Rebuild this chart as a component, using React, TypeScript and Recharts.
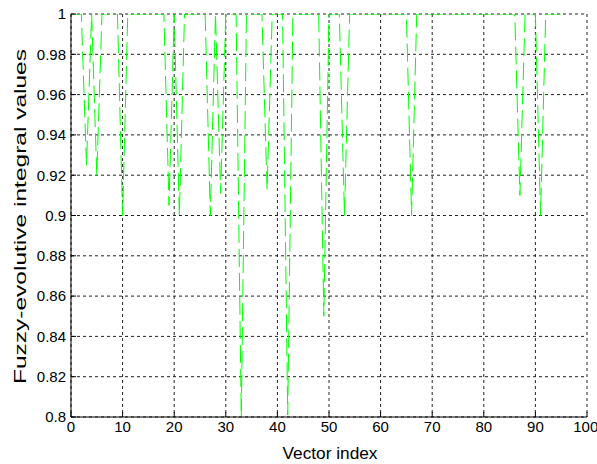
import React from 'react';
import { LineChart, Line, XAxis, YAxis, CartesianGrid } from 'recharts';

// vector index 0..95, fuzzy-evolutive integral values
const indexes = [
  0, 1, 2, 3, 4, 5, 6, 7, 8, 9,
  10, 11, 12, 13, 14, 15, 16, 17, 18, 19,
  20, 21, 22, 23, 24, 25, 26, 27, 28, 29,
  30, 31, 32, 33, 34, 35, 36, 37, 38, 39,
  40, 41, 42, 43, 44, 45, 46, 47, 48, 49,
  50, 51, 52, 53, 54, 55, 56, 57, 58, 59,
  60, 61, 62, 63, 64, 65, 66, 67, 68, 69,
  70, 71, 72, 73, 74, 75, 76, 77, 78, 79,
  80, 81, 82, 83, 84, 85, 86, 87, 88, 89,
  90, 91, 92, 93, 94, 95,
];

const values = [
  1, 1, 1, 0.925, 1, 0.92, 1, 1, 1, 1,
  0.9, 1, 1, 1, 1, 1, 1, 1, 1, 0.905,
  1, 0.9, 1, 1, 1, 1, 1, 0.9, 1, 0.911,
  1, 1, 1, 0.8, 1, 1, 1, 1, 0.913, 1,
  1, 1, 0.801, 1, 1, 1, 1, 1, 1, 0.85,
  1, 1, 1, 0.9, 1, 1, 1, 1, 1, 1,
  1, 1, 1, 1, 1, 1, 0.9, 1, 1, 1,
  1, 1, 1, 1, 1, 1, 1, 1, 1, 1,
  1, 1, 1, 1, 1, 1, 1, 0.91, 1, 1,
  1, 0.9, 1, 1, 1, 1,
];

const xTicks = [0, 10, 20, 30, 40, 50, 60, 70, 80, 90, 100];
const yTicks = [0.8, 0.82, 0.84, 0.86, 0.88, 0.9, 0.92, 0.94, 0.96, 0.98, 1];

const xTitle = 'Vector index';
const yTitle = 'Fuzzy-evolutive integral values';

const data = indexes.map((idx, i) => ({ idx, v: values[i] }));

const family = 'Liberation Sans, Arial, sans-serif';
const tickFont = { fontFamily: family, fontSize: 15, fill: '#000' };
const blank = () => '';

function XTitle(props: any) {
  const vb = props.viewBox || { x: 71, width: 516 };
  const cx = vb.x + vb.width / 2 + 1;
  return (
    <text
      x={cx}
      y={459}
      textAnchor="middle"
      fontFamily={family}
      fontSize={17}
      fill="#000"
      textLength={95}
      lengthAdjust="spacingAndGlyphs"
    >
      {xTitle}
    </text>
  );
}

function YTitle(props: any) {
  const vb = props.viewBox || { y: 14, height: 403 };
  const cx = 20;
  const cy = vb.y + vb.height / 2 + 1;
  return (
    <text
      x={cx}
      y={cy}
      transform={`rotate(-90 ${cx} ${cy})`}
      textAnchor="middle"
      dominantBaseline="central"
      fontFamily={family}
      fontSize={17}
      fill="#000"
      textLength={335}
      lengthAdjust="spacingAndGlyphs"
    >
      {yTitle}
    </text>
  );
}

export default function App() {
  return (
    <div style={{ position: 'absolute', left: 0, top: 0, background: '#fff' }}>
      <LineChart
        width={597}
        height={464}
        data={data}
        margin={{ top: 14, right: 10, bottom: 0, left: 0 }}
      >
        <CartesianGrid
          xAxisId="b"
          yAxisId="l"
          stroke="#222"
          strokeDasharray="3 3"
        />
        <XAxis
          xAxisId="b"
          dataKey="idx"
          type="number"
          domain={[0, 100]}
          ticks={xTicks}
          height={47}
          tickSize={-5}
          tickMargin={9}
          tick={tickFont}
          stroke="#000"
          allowDataOverflow
          label={<XTitle />}
        />
        <XAxis
          xAxisId="t"
          orientation="top"
          type="number"
          domain={[0, 100]}
          ticks={xTicks}
          height={0}
          tickSize={-5}
          tickFormatter={blank}
          stroke="#000"
        />
        <YAxis
          yAxisId="l"
          type="number"
          domain={[0.8, 1]}
          ticks={yTicks}
          width={71}
          tickSize={-5}
          tickMargin={10}
          tick={tickFont}
          stroke="#000"
          allowDataOverflow
          label={<YTitle />}
        />
        <YAxis
          yAxisId="r"
          orientation="right"
          type="number"
          domain={[0.8, 1]}
          ticks={yTicks}
          width={0}
          tickSize={-5}
          tickFormatter={blank}
          stroke="#000"
        />
        <Line
          xAxisId="b"
          yAxisId="l"
          type="linear"
          dataKey="v"
          stroke="#00ff00"
          strokeWidth={1}
          strokeDasharray="18 6"
          dot={false}
          isAnimationActive={false}
        />
      </LineChart>
    </div>
  );
}
